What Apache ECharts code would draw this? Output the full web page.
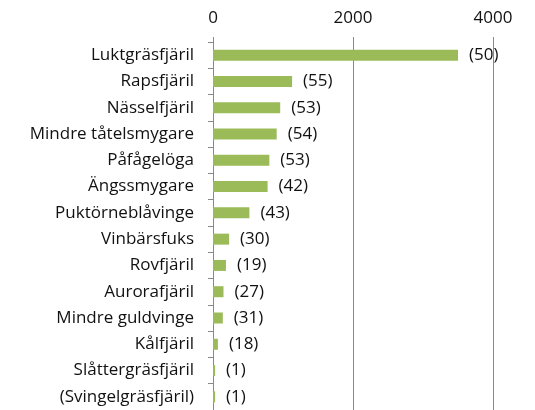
<!DOCTYPE html>
<html>
<head>
<meta charset="utf-8">
<script src="https://cdn.jsdelivr.net/npm/echarts@6/dist/echarts.min.js"></script>
<style>
    html, body { margin: 0; padding: 0; background: #fff; }
    #myChart { width: 535px; height: 410px; }
</style>
</head>
<body>
<div id="myChart"></div>
<script>
    // arter (uppifrån och ned)
    var categories = ['Luktgräsfjäril', 'Rapsfjäril', 'Nässelfjäril', 'Mindre tåtelsmygare', 'Påfågelöga',
        'Ängssmygare', 'Puktörneblåvinge', 'Vinbärsfuks', 'Rovfjäril', 'Aurorafjäril',
        'Mindre guldvinge', 'Kålfjäril', 'Slåttergräsfjäril', '(Svingelgräsfjäril)']
    // antal individer
    var values = [3500, 1130, 960, 910, 805, 780, 520, 230, 185, 150, 140, 70, 30, 30]
    // antal lokaler (inom parentes)
    var counts = [50, 55, 53, 54, 53, 42, 43, 30, 19, 27, 31, 18, 1, 1]
    var xTicks = [0, 2000, 4000]

    var font = '"Open Sans", sans-serif'
    var myChart = echarts.init(document.getElementById('myChart'))
    myChart.setOption({
        animation: false,
        grid: {left: 213, right: 42, top: 42, bottom: 0},
        xAxis: {
            type: 'value',
            position: 'top',
            min: xTicks[0],
            max: xTicks[xTicks.length - 1],
            interval: xTicks[1] - xTicks[0],
            axisLine: {show: false},
            axisTick: {show: true, length: 5, lineStyle: {color: '#898989'}},
            splitLine: {show: true, lineStyle: {color: '#898989', width: 1}},
            axisLabel: {
                margin: 15,
                color: '#111',
                fontFamily: font,
                fontSize: 17,
                formatter: function (v) {
                    return String(v)
                }
            }
        },
        yAxis: {
            type: 'category',
            inverse: true,
            data: categories,
            axisLine: {show: true, lineStyle: {color: '#898989'}},
            axisTick: {show: true, length: 5, lineStyle: {color: '#898989'}},
            axisLabel: {
                margin: 19,
                color: '#111',
                fontFamily: font,
                fontSize: 17
            }
        },
        series: [{
            type: 'bar',
            data: values,
            barWidth: 11,
            itemStyle: {color: '#9bbb59'},
            label: {
                show: true,
                position: 'right',
                distance: 11,
                color: '#111',
                fontFamily: font,
                fontSize: 17,
                formatter: function (p) {
                    return '(' + counts[p.dataIndex] + ')'
                }
            }
        }]
    })
</script>
</body>
</html>
